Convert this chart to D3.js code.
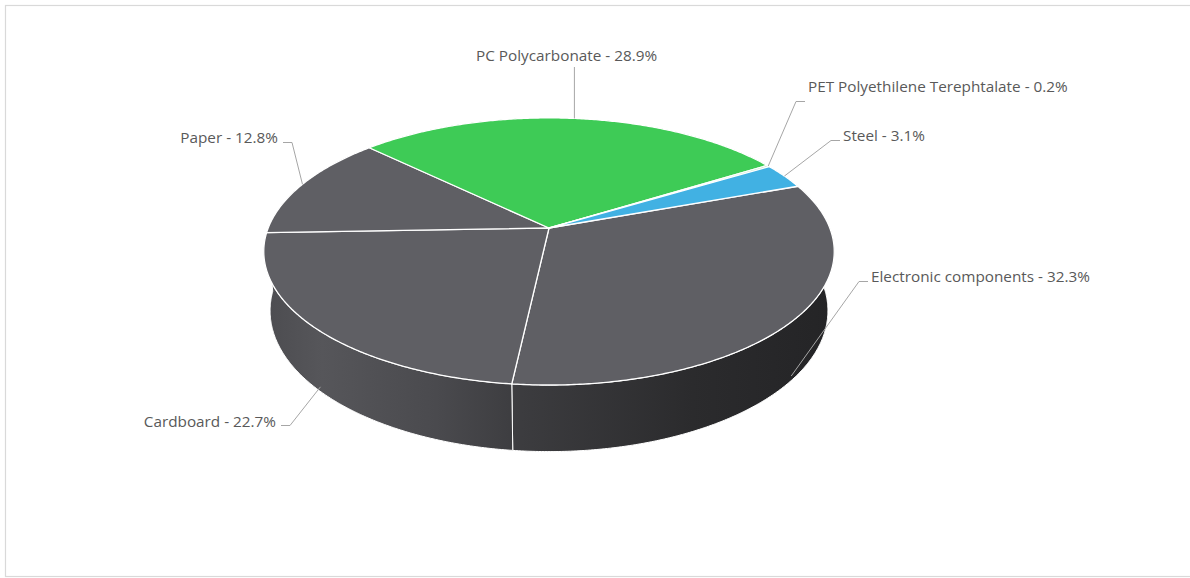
<!DOCTYPE html>
<html>
<head>
<meta charset="utf-8">
<script src="https://cdn.jsdelivr.net/npm/d3@7"></script>
<style>
  body { margin: 0; background: #fff; }
  svg { display: block; }
  .label { font-family: "Open Sans", Lato, sans-serif; font-size: 15.3px; fill: #595959; }
</style>
</head>
<body>
<svg id="chart" width="1190" height="578"></svg>
<script>
// data, in the order the slices run clockwise from the first one
const materials = ["Electronic components", "Cardboard", "Paper", "PC Polycarbonate", "PET Polyethilene Terephtalate", "Steel"]
const shares = [32.3, 22.7, 12.8, 28.9, 0.2, 3.1]
const sliceColors = ["#5f5f64", "#5f5f64", "#5f5f64", "#3ecb56", "#a8e0b0", "#41b1e3"]

// where each label sits: [x, baseline, anchor, stub y offset from baseline, stub direction]
const labelLayout = [
  [871, 282, "start", -0.5, -1],
  [276, 427, "end", -1.5, 1],
  [278, 143, "end", -0.5, 1],
  [476, 61, "start", null, 0],
  [808, 92, "start", 9.5, -1],
  [843, 141, "start", -0.5, -1]
]

const first_slice_angle = 70 // degrees, clockwise from the back

//projection of the tilted disc (perspective)
const cx = 549, cy = 228
const focal = 1418, dist = 5.05
const sinT = 0.461, cosT = 0.887
const thickness = 0.24

function project(deg, r, Y){
  const a = deg * Math.PI / 180
  const X = r * Math.sin(a), Z = r * Math.cos(a)
  const yc = Z * sinT + Y * cosT
  const zc = dist + Z * cosT - Y * sinT
  return [cx + focal * X / zc, cy - focal * yc / zc]
}

const svg = d3.select("#chart")

svg.append("rect")
  .attr("x", 5.5).attr("y", 5.5)
  .attr("width", 1200).attr("height", 571)
  .attr("fill", "none")
  .attr("stroke", "#d9d9d9")
  .attr("stroke-width", 1.2)

const defs = svg.append("defs")
const grad = defs.append("linearGradient")
  .attr("id", "sideGrad")
  .attr("gradientUnits", "userSpaceOnUse")
  .attr("x1", 265).attr("x2", 835).attr("y1", 0).attr("y2", 0)
const gradStops = [[0, "#4c4c50"], [0.1, "#56565a"], [0.3, "#4a4a4e"], [0.45, "#3c3c3f"], [0.75, "#2b2b2d"], [1, "#242426"]]
grad.selectAll("stop").data(gradStops).join("stop")
  .attr("offset", d => d[0]).attr("stop-color", d => d[1])

const pie = d3.pie().sort(null)
  .startAngle(first_slice_angle * Math.PI / 180)
  .endAngle(first_slice_angle * Math.PI / 180 + 2 * Math.PI)
const arcs = pie(shares).map((d, i) => ({
  ...d,
  name: materials[i],
  a0: d.startAngle * 180 / Math.PI,
  a1: d.endAngle * 180 / Math.PI,
  color: sliceColors[i]
}))

function arcPoints(a0, a1, Y){
  const n = Math.max(2, Math.ceil((a1 - a0) / 0.5))
  return d3.range(n + 1).map(k => project(a0 + (a1 - a0) * k / n, 1, Y))
}

const line = d3.line()

// side walls, back ones first
const sideOrder = arcs.slice().sort((p, q) =>
  Math.cos((q.a0 + q.a1) / 360 * Math.PI) - Math.cos((p.a0 + p.a1) / 360 * Math.PI))
svg.append("g").selectAll("path").data(sideOrder).join("path")
  .attr("d", d => line(arcPoints(d.a0, d.a1, 0).concat(arcPoints(d.a0, d.a1, -thickness).reverse())) + "Z")
  .attr("fill", "url(#sideGrad)")
  .attr("stroke", "#ffffff")
  .attr("stroke-width", 1)
  .attr("stroke-linejoin", "round")

// top faces
svg.append("g").selectAll("path").data(arcs).join("path")
  .attr("d", d => line([project(0, 0, 0)].concat(arcPoints(d.a0, d.a1, 0))) + "Z")
  .attr("fill", d => d.color)
  .attr("stroke", "#ffffff")
  .attr("stroke-width", 1.3)
  .attr("stroke-linejoin", "round")

// leader lines and labels
const labels = svg.append("g")
arcs.forEach((d, i) => {
  const [tx, ty, anchor, stubDy, dir] = labelLayout[i]
  const mid = (d.a0 + d.a1) / 2
  const back = Math.cos(mid * Math.PI / 180) > 0
  const end = project(mid, 1, back ? 0 : -thickness * 0.92)
  let pts
  if(dir === 0){
    pts = [[end[0], ty + 6], end]
  }else{
    const sx = anchor === "start" ? tx - 3 : tx + 5
    const sy = ty + stubDy
    pts = [[sx, sy], [sx + dir * 9, sy], end]
  }
  labels.append("path")
    .attr("d", line(pts))
    .attr("fill", "none")
    .attr("stroke", "#a6a6a6")
    .attr("stroke-width", 1)

  labels.append("text")
    .attr("class", "label")
    .attr("x", tx).attr("y", ty)
    .attr("text-anchor", anchor)
    .text(`${d.name} - ${shares[i]}%`)
})
</script>
</body>
</html>
